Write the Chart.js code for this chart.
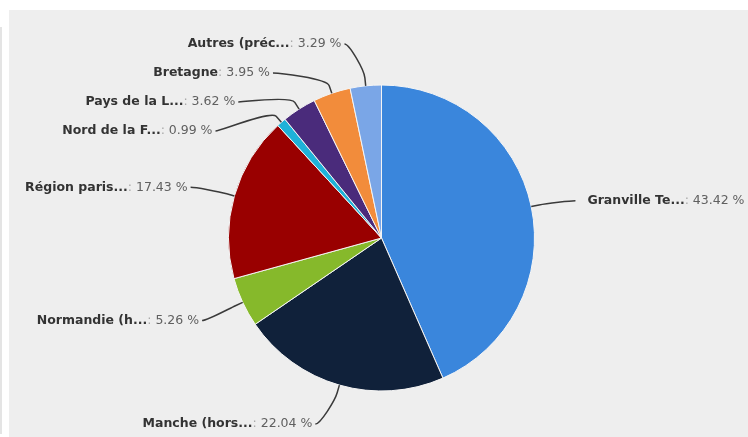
<!DOCTYPE html>
<html>
<head>
<meta charset="utf-8">
<script src="https://cdn.jsdelivr.net/npm/chart.js@4/dist/chart.umd.min.js"></script>
<style>
    body { margin: 0; background: #ffffff; }
    #wrap { position: relative; width: 748px; height: 437px; overflow: hidden; }
    #panel { position: absolute; left: 9px; top: 10px; right: 0; bottom: 0; background: #eeeeee; }
    #strip { position: absolute; left: 0; top: 27px; width: 2px; bottom: 3px; background: #e4e4e4; }
    canvas { position: absolute; left: 0; top: 0; }
</style>
</head>
<body>
<div id="wrap">
    <div id="panel"></div>
    <div id="strip"></div>
    <canvas id="pie" width="748" height="437"></canvas>
</div>
<script>
const categories = [
    "Granville Te...",
    "Manche (hors...",
    "Normandie (h...",
    "Région paris...",
    "Nord de la F...",
    "Pays de la L...",
    "Bretagne",
    "Autres (préc..."
];
const shares = [43.42, 22.04, 5.26, 17.43, 0.99, 3.62, 3.95, 3.29];
const colors = [
    "#3a86dc",
    "#10213a",
    "#86b92b",
    "#990000",
    "#1fb2d8",
    "#4a2b7b",
    "#f28c3b",
    "#7aa6e7"
];

// highcharts-like outside labels with connectors
const outsideLabels = {
    id: "outsideLabels",
    afterDraw(chart) {
        const ctx = chart.ctx;
        const meta = chart.getDatasetMeta(0);
        const left = [], right = [];

        meta.data.forEach(function(arc, i) {
            const p = arc.getProps(["x", "y", "startAngle", "endAngle", "outerRadius"], true);
            const mid = (p.startAngle + p.endAngle) / 2;
            const item = {
                i: i,
                cx: p.x, cy: p.y, r: p.outerRadius, mid: mid,
                target: p.y + (p.outerRadius + 38.5) * Math.sin(mid) + 2
            };
            (Math.cos(mid) >= 0 ? right : left).push(item);
        });

        const top = meta.data[0].y - meta.data[0].outerRadius - 41;
        const bottom = meta.data[0].y + meta.data[0].outerRadius + 34;
        distribute(left, top, bottom, 29);
        distribute(right, top, bottom, 29);

        const fontFace = "12.5px 'DejaVu Sans'";
        ctx.save();
        ctx.textBaseline = "middle";
        left.concat(right).forEach(function(it) {
            const isLeft = Math.cos(it.mid) < 0;
            const R = it.r + 44.5;
            const dy = Math.max(-R, Math.min(R, it.y - it.cy));
            const sx = it.cx + (isLeft ? -1 : 1) * Math.sqrt(R * R - dy * dy);

            const touch = { x: it.cx + it.r * Math.cos(it.mid), y: it.cy + it.r * Math.sin(it.mid) };
            const brk = { x: it.cx + (it.r + 8) * Math.cos(it.mid), y: it.cy + (it.r + 8) * Math.sin(it.mid) };

            ctx.beginPath();
            ctx.moveTo(sx, it.y);
            ctx.bezierCurveTo(sx + (isLeft ? 5 : -5), it.y, 2 * brk.x - touch.x, 2 * brk.y - touch.y, brk.x, brk.y);
            ctx.lineTo(touch.x, touch.y);
            ctx.strokeStyle = "#3a3a3a";
            ctx.lineWidth = 1.5;
            ctx.stroke();

            const name = categories[it.i];
            const sep = ": ";
            const val = shares[it.i].toFixed(2) + " %";
            ctx.font = "bold " + fontFace;
            const wName = ctx.measureText(name).width;
            ctx.font = fontFace;
            const wSep = ctx.measureText(sep).width;
            const wVal = ctx.measureText(val).width;
            const total = wName + wSep + wVal;
            let tx = isLeft ? sx - 3 - total : sx + 12;

            ctx.textAlign = "left";
            ctx.font = "bold " + fontFace;
            ctx.fillStyle = "#333333";
            ctx.fillText(name, tx, it.y);
            tx += wName;
            ctx.font = fontFace;
            ctx.fillStyle = "#aaaaaa";
            ctx.fillText(sep, tx, it.y);
            tx += wSep;
            ctx.fillStyle = "#606060";
            ctx.fillText(val, tx, it.y);
        });
        ctx.restore();
    }
};

function distribute(items, min, max, gap) {
    items.sort((a, b) => a.target - b.target);
    let groups = items.map(it => ({ items: [it], pos: it.target }));
    let changed = true;
    while (changed) {
        changed = false;
        groups.forEach(function(g) {
            let s = 0;
            g.items.forEach((it, k) => s += it.target - k * gap);
            g.pos = s / g.items.length;
            g.pos = Math.max(min, Math.min(max - (g.items.length - 1) * gap, g.pos));
        });
        for (let i = 1; i < groups.length; i++) {
            const prev = groups[i - 1];
            const prevEnd = prev.pos + (prev.items.length - 1) * gap;
            if (groups[i].pos - prevEnd < gap) {
                prev.items = prev.items.concat(groups[i].items);
                groups.splice(i, 1);
                changed = true;
                break;
            }
        }
    }
    groups.forEach(g => g.items.forEach((it, k) => it.y = g.pos + k * gap));
}

document.addEventListener("DOMContentLoaded", function() {
    const ctx = document.getElementById("pie").getContext("2d");

    new Chart(ctx, {
        type: "pie",
        data: {
            labels: categories,
            datasets: [{
                data: shares,
                backgroundColor: colors,
                borderColor: "#f4f4f4",
                borderWidth: 1
            }]
        },
        options: {
            responsive: false,
            animation: false,
            layout: {
                padding: { left: 228, right: 213, top: 84.5, bottom: 45.5 }
            },
            plugins: {
                legend: { display: false },
                tooltip: { enabled: false }
            }
        },
        plugins: [outsideLabels]
    });
});
</script>
</body>
</html>
